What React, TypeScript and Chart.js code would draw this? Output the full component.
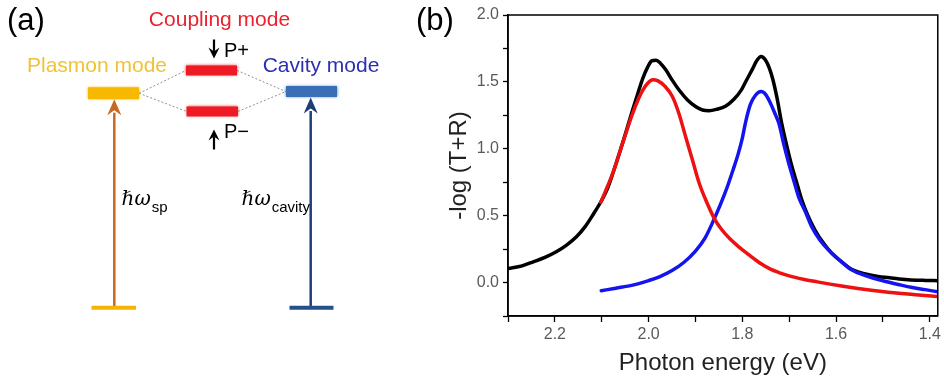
import { useEffect, useRef } from 'react';
import { Chart, registerables } from 'chart.js';

Chart.register(...registerables);

const SANS = '"Liberation Sans", Arial, Helvetica, sans-serif';

// ---------- (b) absorption spectrum ----------
// measured -log(T+R) versus photon energy (eV)
const measuredEnergy = [
  2.300, 2.270, 2.246, 2.220, 2.197, 2.175, 2.154, 2.135, 2.119, 2.100,
  2.088, 2.075, 2.062, 2.048, 2.035, 2.022, 2.012, 2.002, 1.993, 1.984,
  1.975, 1.963, 1.950, 1.935, 1.917, 1.899, 1.885, 1.871, 1.855, 1.836,
  1.818, 1.802, 1.790, 1.779, 1.769, 1.760, 1.751, 1.742, 1.735, 1.726,
  1.716, 1.705, 1.694, 1.683, 1.673, 1.660, 1.645, 1.627, 1.609, 1.590,
  1.567, 1.553, 1.530, 1.510, 1.489, 1.465, 1.440, 1.410, 1.383,
];
const measuredAbs = [
  0.105, 0.125, 0.155, 0.190, 0.230, 0.280, 0.342, 0.420, 0.505, 0.615,
  0.700, 0.830, 0.970, 1.130, 1.280, 1.425, 1.530, 1.610, 1.658, 1.662,
  1.640, 1.589, 1.515, 1.439, 1.365, 1.314, 1.290, 1.285, 1.295, 1.318,
  1.370, 1.440, 1.520, 1.592, 1.660, 1.690, 1.665, 1.600, 1.520, 1.380,
  1.190, 1.020, 0.866, 0.735, 0.617, 0.500, 0.393, 0.295, 0.218, 0.160,
  0.100, 0.080, 0.058, 0.046, 0.037, 0.027, 0.020, 0.016, 0.014,
];

// fitted upper-energy component (red)
const upperFitEnergy = [
  2.102, 2.090, 2.075, 2.062, 2.048, 2.035, 2.022, 2.012, 2.002, 1.991,
  1.980, 1.966, 1.949, 1.935, 1.921, 1.906, 1.892, 1.876, 1.860, 1.845,
  1.826, 1.807, 1.785, 1.760, 1.740, 1.722, 1.700, 1.670, 1.640, 1.616,
  1.585, 1.553, 1.520, 1.489, 1.460, 1.440, 1.410, 1.383,
];
const upperFitAbs = [
  0.600, 0.700, 0.830, 0.970, 1.120, 1.255, 1.370, 1.440, 1.490, 1.516,
  1.508, 1.470, 1.389, 1.260, 1.090, 0.910, 0.742, 0.600, 0.480, 0.400,
  0.325, 0.265, 0.205, 0.140, 0.100, 0.075, 0.050, 0.025, 0.005, -0.010,
  -0.028, -0.045, -0.060, -0.072, -0.082, -0.088, -0.097, -0.105,
];

// fitted lower-energy component (blue)
const lowerFitEnergy = [
  2.101, 2.070, 2.034, 2.000, 1.977, 1.950, 1.925, 1.900, 1.880, 1.862,
  1.846, 1.832, 1.820, 1.809, 1.800, 1.793, 1.783, 1.772, 1.760, 1.750,
  1.740, 1.730, 1.722, 1.712, 1.701, 1.690, 1.680, 1.665, 1.652, 1.635,
  1.616, 1.590, 1.567, 1.553, 1.520, 1.489, 1.465, 1.440, 1.410, 1.383,
];
const lowerFitAbs = [
  -0.061, -0.042, -0.019, 0.015, 0.043, 0.090, 0.150, 0.235, 0.330, 0.460,
  0.590, 0.716, 0.840, 0.960, 1.080, 1.200, 1.330, 1.400, 1.428, 1.405,
  1.340, 1.260, 1.190, 1.040, 0.891, 0.760, 0.641, 0.525, 0.417, 0.320,
  0.243, 0.160, 0.095, 0.072, 0.032, 0.004, -0.016, -0.035, -0.053, -0.069,
];

const energyTicks = [2.3, 2.2, 2.1, 2.0, 1.9, 1.8, 1.7, 1.6, 1.5, 1.4];
const energyTickLabels = ['2.2', '2.0', '1.8', '1.6', '1.4'];
const absTicks = [-0.25, 0, 0.25, 0.5, 0.75, 1.0, 1.25, 1.5, 1.75, 2.0];
const absTickLabels = ['0.0', '0.5', '1.0', '1.5', '2.0'];

// ---------- (a) energy-level scheme ----------
const plasmonLevel = 0.994;
const cavityLevel = 1.002;
const upperLevel = 1.10; // P+
const lowerLevel = 0.91; // P−
const groundLevel = 0;
// horizontal columns of the scheme: plasmon, coupled, cavity
const plasmonColumn = 113.5;
const couplingColumn = 211.5;
const cavityColumn = 311.5;

const toPoints = (xs: number[], ys: number[]) => xs.map((x, i) => ({ x, y: ys[i] }));

function seg(x0: number, x1: number, y0: number, y1: number) {
  return [{ x: x0, y: y0 }, { x: x1, y: y1 }];
}

function arrowHead(ctx: CanvasRenderingContext2D, x: number, tipY: number, dir: number, half: number, len: number, notch: number, color: string) {
  ctx.save();
  ctx.fillStyle = color;
  ctx.beginPath();
  ctx.moveTo(x, tipY);
  ctx.lineTo(x - half, tipY + dir * len);
  ctx.lineTo(x, tipY + dir * notch);
  ctx.lineTo(x + half, tipY + dir * len);
  ctx.closePath();
  ctx.fill();
  ctx.restore();
}

const schemePlugin = {
  id: 'schemeLabels',
  beforeDatasetDraw(chart: any, args: any) {
    const ds = chart.data.datasets[args.index];
    if (ds.glow) {
      chart.ctx.save();
      chart.ctx.shadowColor = ds.borderColor;
      chart.ctx.shadowBlur = 3;
    }
  },
  afterDatasetDraw(chart: any, args: any) {
    const ds = chart.data.datasets[args.index];
    if (ds.glow) chart.ctx.restore();
  },
  afterDatasetsDraw(chart: any) {
    const { ctx, scales } = chart;
    const px = (v: number) => scales.x.getPixelForValue(v);
    const py = (v: number) => scales.y.getPixelForValue(v);
    ctx.save();
    ctx.textBaseline = 'alphabetic';

    ctx.fillStyle = '#000';
    ctx.font = `31px ${SANS}`;
    ctx.textAlign = 'left';
    ctx.fillText('(a)', 7, 30);

    ctx.font = `21px ${SANS}`;
    ctx.textAlign = 'center';
    ctx.fillStyle = '#e8232e';
    ctx.fillText('Coupling mode', px(couplingColumn) + 8, py(upperLevel) - 44);
    ctx.fillStyle = '#f0c236';
    ctx.fillText('Plasmon mode', px(plasmonColumn) - 16.5, py(plasmonLevel) - 21);
    ctx.fillStyle = '#2b2fb0';
    ctx.fillText('Cavity mode', px(cavityColumn) + 9.5, py(cavityLevel) - 20);

    // polariton branch labels with small arrows
    ctx.fillStyle = '#000';
    ctx.textAlign = 'left';
    ctx.font = `20px ${SANS}`;
    ctx.fillText('P+', px(couplingColumn) + 12.5, py(upperLevel) - 13);
    ctx.fillText('P\u2212', px(couplingColumn) + 12.5, py(lowerLevel) + 27);
    const ax = px(couplingColumn) + 2.5;
    ctx.strokeStyle = '#000';
    ctx.lineWidth = 2.2;
    ctx.beginPath();
    ctx.moveTo(ax, py(upperLevel) - 31);
    ctx.lineTo(ax, py(upperLevel) - 18);
    ctx.moveTo(ax, py(lowerLevel) + 38);
    ctx.lineTo(ax, py(lowerLevel) + 25);
    ctx.stroke();
    arrowHead(ctx, ax, py(upperLevel) - 12, -1, 5.5, 11, 7, '#000');
    arrowHead(ctx, ax, py(lowerLevel) + 18, 1, 5.5, 11, 7, '#000');

    // excitation arrows
    const tipSp = py(plasmonLevel) + 6;
    const tipCav = py(cavityLevel) + 6;
    arrowHead(ctx, px(plasmonColumn + 0.8), tipSp, 1, 7, 16, 11, '#c8691f');
    arrowHead(ctx, px(cavityColumn - 0.8), tipCav, 1, 7, 16, 11, '#1f3d7a');

    // ħω labels
    const labelY = py(plasmonLevel * 0.5) + 5;
    ctx.font = `italic 20px "DejaVu Serif", "Liberation Serif", serif`;
    ctx.textAlign = 'left';
    const hw = '\u210F\u03C9';
    const spX = px(plasmonColumn) + 8;
    ctx.fillText(hw, spX, labelY);
    const w1 = ctx.measureText(hw).width;
    const cavX = px(cavityColumn) - 70;
    ctx.fillText(hw, cavX, labelY);
    ctx.font = `15px ${SANS}`;
    ctx.fillText('sp', spX + w1 + 1, labelY + 7);
    ctx.fillText('cavity', cavX + w1 + 1, labelY + 7);
    ctx.restore();
  },
};

const framePlugin = {
  id: 'frameAndTag',
  afterDraw(chart: any) {
    const { ctx, chartArea: a } = chart;
    ctx.save();
    ctx.strokeStyle = '#000';
    ctx.lineWidth = 1.5;
    ctx.strokeRect(a.left, a.top, a.right - a.left, a.bottom - a.top);
    ctx.fillStyle = '#000';
    ctx.font = `31px ${SANS}`;
    ctx.textBaseline = 'alphabetic';
    ctx.textAlign = 'left';
    ctx.fillText('(b)', 6, 30);
    ctx.restore();
  },
};

export default function App() {
  const schemeRef = useRef<HTMLCanvasElement | null>(null);
  const spectrumRef = useRef<HTMLCanvasElement | null>(null);

  useEffect(() => {
    document.body.style.margin = '0';
    const line = (data: any[], color: string, width: number, extra: any = {}) => ({
      data,
      borderColor: color,
      borderWidth: width,
      pointRadius: 0,
      borderCapStyle: 'butt',
      fill: false,
      tension: 0,
      ...extra,
    });

    const scheme = new Chart(schemeRef.current as HTMLCanvasElement, {
      type: 'line',
      data: {
        datasets: [
          line(seg(plasmonColumn - 25.5, plasmonColumn + 25.5, plasmonLevel, plasmonLevel), '#f6b800', 12, { glow: true }),
          line(seg(cavityColumn - 25.5, cavityColumn + 25.5, cavityLevel, cavityLevel), '#3a6fb8', 11, { glow: true }),
          line(seg(couplingColumn - 25.5, couplingColumn + 25.5, upperLevel, upperLevel), '#ee1b24', 10, { glow: true }),
          line(seg(couplingColumn - 25, couplingColumn + 26.5, lowerLevel, lowerLevel), '#ee1b24', 10, { glow: true }),
          line(seg(plasmonColumn + 25.5, couplingColumn - 25.5, plasmonLevel, upperLevel), '#8f8f8f', 1, { borderDash: [2, 2] }),
          line(seg(plasmonColumn + 25.5, couplingColumn - 25, plasmonLevel, lowerLevel), '#8f8f8f', 1, { borderDash: [2, 2] }),
          line(seg(couplingColumn + 25.5, cavityColumn - 25.5, upperLevel, cavityLevel), '#8f8f8f', 1, { borderDash: [2, 2] }),
          line(seg(couplingColumn + 26.5, cavityColumn - 25.5, lowerLevel, cavityLevel), '#8f8f8f', 1, { borderDash: [2, 2] }),
          line(seg(plasmonColumn - 22, plasmonColumn + 22.5, groundLevel, groundLevel), '#f5b400', 4),
          line(seg(cavityColumn - 22, cavityColumn + 22, groundLevel, groundLevel), '#264f8e', 4),
          line(seg(plasmonColumn + 0.8, plasmonColumn + 0.8, groundLevel, plasmonLevel - 0.09), '#c8691f', 2.5),
          line(seg(cavityColumn - 0.8, cavityColumn - 0.8, groundLevel, cavityLevel - 0.09), '#1f3d7a', 2.5),
        ],
      },
      options: {
        responsive: false,
        animation: false,
        layout: { padding: 0 },
        plugins: { legend: { display: false }, tooltip: { enabled: false } },
        scales: {
          x: { type: 'linear', min: 0, max: 410, display: false },
          y: { type: 'linear', min: -0.34, max: 1.4265, display: false },
        },
      },
      plugins: [schemePlugin],
    } as any);

    const tickFont = { family: SANS, size: 16 };
    const spectrum = new Chart(spectrumRef.current as HTMLCanvasElement, {
      type: 'line',
      data: {
        datasets: [
          line(toPoints(upperFitEnergy, upperFitAbs), '#ee1111', 3.5, { cubicInterpolationMode: 'monotone', borderCapStyle: 'round' }),
          line(toPoints(lowerFitEnergy, lowerFitAbs), '#1414ee', 3.5, { cubicInterpolationMode: 'monotone', borderCapStyle: 'round' }),
          line(toPoints(measuredEnergy, measuredAbs), '#000000', 3.5, { cubicInterpolationMode: 'monotone', borderCapStyle: 'round' }),
        ],
      },
      options: {
        responsive: false,
        animation: false,
        layout: { padding: { left: 0, right: 4, top: 15, bottom: 0 } },
        plugins: { legend: { display: false }, tooltip: { enabled: false } },
        scales: {
          x: {
            type: 'linear',
            reverse: true,
            min: 1.383,
            max: 2.3,
            afterBuildTicks: (s: any) => {
              s.ticks = energyTicks.map((v) => ({ value: v }));
            },
            afterFit: (s: any) => {
              s.height = 65;
            },
            ticks: {
              autoSkip: false,
              maxRotation: 0,
              padding: 3,
              color: '#5a5a5a',
              font: tickFont,
              callback: (v: any) => {
                const t = Number(v).toFixed(1);
                return energyTickLabels.includes(t) ? t : '';
              },
            },
            grid: { drawOnChartArea: false, tickLength: 6, tickColor: '#000', tickWidth: 1.3 },
            border: { color: '#000', width: 1.5 },
            title: {
              display: true,
              text: 'Photon energy (eV)',
              color: '#222',
              font: { family: SANS, size: 24 },
              padding: { top: 0, bottom: 3 },
            },
          },
          y: {
            type: 'linear',
            min: -0.25,
            max: 2.0,
            afterBuildTicks: (s: any) => {
              s.ticks = absTicks.map((v) => ({ value: v }));
            },
            afterFit: (s: any) => {
              s.width = 98;
            },
            ticks: {
              autoSkip: false,
              padding: 4,
              color: '#5a5a5a',
              font: tickFont,
              callback: (v: any) => {
                const t = Number(v).toFixed(1);
                return absTickLabels.includes(t) && Math.abs(Number(v) * 2 - Math.round(Number(v) * 2)) < 1e-6 ? t : '';
              },
            },
            grid: { drawOnChartArea: false, tickLength: 5, tickColor: '#000', tickWidth: 1.3 },
            border: { color: '#000', width: 1.5 },
            title: {
              display: true,
              text: '-log (T+R)',
              color: '#222',
              font: { family: SANS, size: 24 },
              padding: { top: 35, bottom: 0 },
            },
          },
        },
      },
      plugins: [framePlugin],
    } as any);

    return () => {
      scheme.destroy();
      spectrum.destroy();
    };
  }, []);

  return (
    <div style={{ position: 'relative', width: 944, height: 381, background: '#fff' }}>
      <canvas ref={schemeRef} width={410} height={381} style={{ position: 'absolute', left: 0, top: 0 }} />
      <canvas ref={spectrumRef} width={534} height={381} style={{ position: 'absolute', left: 410, top: 0 }} />
    </div>
  );
}
